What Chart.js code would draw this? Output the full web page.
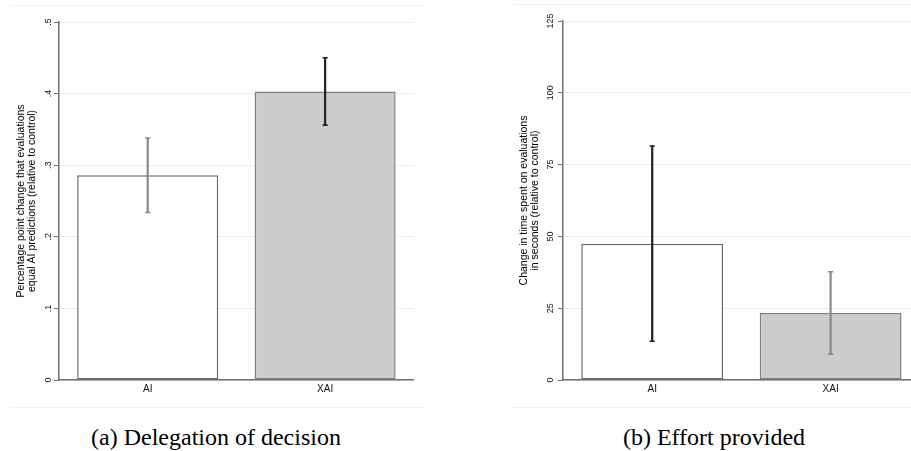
<!DOCTYPE html>
<html><head><meta charset="utf-8">
<script src="https://cdn.jsdelivr.net/npm/chart.js@4.4.1/dist/chart.umd.min.js"></script>
<style>
html,body{margin:0;padding:0;background:#fff;overflow:hidden;width:911px;height:451px;}
#wrap{position:relative;width:911px;height:451px;overflow:hidden;}
.panel{position:absolute;}
.frame{position:absolute;height:0;border-top:1px solid #eef2f3;}
.cap{position:absolute;font-family:"Liberation Serif","DejaVu Serif",serif;font-size:24px;color:#000;white-space:nowrap;transform:translateX(-50%);line-height:1;}
</style></head><body>
<div id="wrap">
 <div class="frame" style="left:10px;top:5px;width:413px"></div>
 <div class="frame" style="left:10px;top:407px;width:413px"></div>
 <div class="frame" style="left:513px;top:4px;width:398px"></div>
 <div class="frame" style="left:513px;top:407px;width:398px"></div>
 <div class="panel" style="left:0;top:0;width:418px;height:400px"><canvas id="c1"></canvas></div>
 <div class="panel" style="left:460px;top:0;width:464px;height:400px"><canvas id="c2"></canvas></div>
 <div class="cap" style="left:216px;top:425px">(a) Delegation of decision</div>
 <div class="cap" style="left:714px;top:425px">(b) Effort provided</div>
</div>
<script>
const categories = ['AI', 'XAI'];

const delegation = [0.286, 0.403];
const delegationLow = [0.234, 0.356];
const delegationHigh = [0.338, 0.450];

const effort = [47.4, 23.3];
const effortLow = [13.5, 9.0];
const effortHigh = [81.5, 37.7];

const ticksA = ['0', '.1', '.2', '.3', '.4', '.5'];
const ticksB = ['0', '25', '50', '75', '100', '125'];

const titleA = ['Percentage point change that evaluations', 'equal AI predictions (relative to control)'];
const titleB = ['Change in time spent on evaluations', 'in seconds (relative to control)'];

Chart.defaults.font.family = "'Liberation Sans', Arial, sans-serif";

function makeChart(id, values, lo, hi, max, step, tickLabels, title, cfg) {
  const axisColor = '#6f6f6f';
  return new Chart(document.getElementById(id), {
    type: 'bar',
    data: {
      labels: categories,
      datasets: [
        {
          type: 'line', data: hi, showLine: false, pointStyle: 'line',
          pointRadius: 2.6, pointHoverRadius: 2.6, pointBorderWidth: 1.6,
          pointBorderColor: cfg.errColors, order: 1
        },
        {
          type: 'line', data: lo, showLine: false, pointStyle: 'line',
          pointRadius: 2.6, pointHoverRadius: 2.6, pointBorderWidth: 1.6,
          pointBorderColor: cfg.errColors, order: 1
        },
        {
          data: lo.map((l, i) => [l, hi[i]]), grouped: false, barThickness: 1.6,
          backgroundColor: cfg.errColors, borderWidth: 0, order: 2
        },
        {
          data: values,
          backgroundColor: ['#ffffff', '#cccccc'],
          borderColor: ['#6a6a6a', '#808080'],
          borderWidth: 1.5, borderSkipped: false,
          categoryPercentage: 1, barPercentage: 0.795, order: 3
        }
      ]
    },
    options: {
      responsive: true, maintainAspectRatio: false, animation: false, devicePixelRatio: 1,
      layout: { padding: { top: cfg.top, left: 0, right: 0, bottom: 0 } },
      plugins: { legend: { display: false }, tooltip: { enabled: false } },
      scales: {
        x: {
          grid: { display: false, drawTicks: false },
          border: { color: axisColor, width: 1.5 },
          ticks: { color: '#111', font: { size: 10 }, padding: 3 },
          afterFit(s) { s.height = 20; }
        },
        y: {
          min: 0, max: max,
          ticks: {
            stepSize: step, callback: (v, i) => tickLabels[i],
            minRotation: 90, maxRotation: 90, crossAlign: 'center',
            padding: cfg.tickPad, color: '#111', font: { size: 9 }
          },
          grid: { color: '#e6eef0', lineWidth: 1, tickLength: 5, tickColor: axisColor, tickWidth: 1 },
          border: { color: axisColor, width: 1.5 },
          title: {
            display: true, text: title, color: '#000',
            font: { size: 10.5, lineHeight: 1.05 },
            padding: { top: cfg.titlePad, bottom: 0 }
          },
          afterFit(s) { s.width = cfg.leftWidth; }
        }
      }
    }
  });
}

makeChart('c1', delegation, delegationLow, delegationHigh, 0.5, 0.1, ticksA, titleA,
  { leftWidth: 59, top: 22, titlePad: 15.5, tickPad: 2, errColors: ['#8c8c8c', '#262626'] });
makeChart('c2', effort, effortLow, effortHigh, 125, 25, ticksB, titleB,
  { leftWidth: 103, top: 21, titlePad: 58.5, tickPad: 0, errColors: ['#262626', '#8c8c8c'] });
</script>
</body></html>
